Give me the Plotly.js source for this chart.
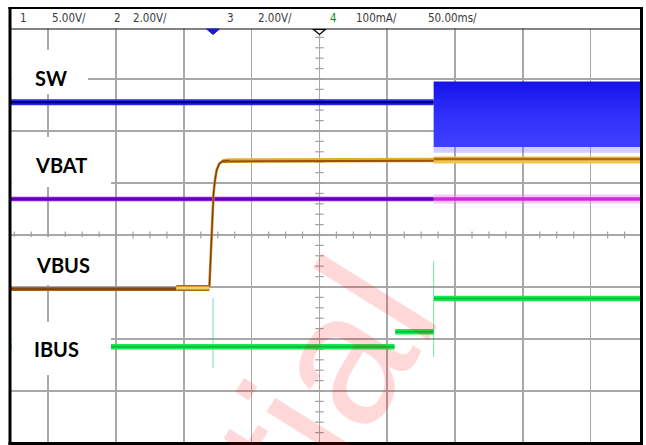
<!DOCTYPE html>
<html><head><meta charset="utf-8">
<script src="https://cdn.plot.ly/plotly-3.0.1.min.js"></script>
<style>html,body{margin:0;padding:0;background:#fff;overflow:hidden}#chart{width:646px;height:445px}</style>
</head><body><div id="chart"></div>
<script>
// ---- Scope header settings ----
const headerLabels = ['1', '5.00V/', '2', '2.00V/', '3', '2.00V/', '4', '100mA/', '50.00ms/'];
const traceLabels = ['SW', 'VBAT', 'VBUS', 'IBUS'];
const watermark = 'tial';

// ---- Waveforms: time in ms (50 ms/div), level in screen divisions ----
const swTime = [-227.5, 84.2];
const swLevel = [2.55, 2.55];
const swBurstTime = [84.2, 236.4];
const swBurstHigh = [2.95, 2.95];
const swBurstLow = [1.69, 1.69];
const swBurstFaintLow = [1.58, 1.58];

const vbatTime = [-227.5, 84.2];
const vbatLevel = [0.69, 0.69];
const vbatNoisyTime = [84.2, 236.4];
const vbatNoisyLevel = [0.69, 0.69];

const vbusTime1 = [-227.5, -105.6];
const vbusLevel1 = [-1.04, -1.04];
const vbusTime2 = [-105.6, -81.2];
const vbusLevel2 = [-1.02, -1.02];
const vbusRiseTime = [-81.2, -80.5, -79.8, -78.8, -78.1, -77.0, -75.8, -73.9, -71.4, -66.5];
const vbusRiseLevel = [-1.0, -0.54, -0.10, 0.42, 0.81, 1.06, 1.25, 1.37, 1.42, 1.43];
const vbusFlatTime = [-71.4, -66.5, 84.2];
const vbusFlatLevel = [1.42, 1.43, 1.44];
const vbusNoisyTime = [84.2, 236.4];
const vbusNoisyLevel = [1.44, 1.44];

const ibusTime = [-227.5, 55.4, null, 55.9, 84.2, null, 84.5, 236.4];
const ibusLevel = [-2.15, -2.15, null, -1.86, -1.86, null, -1.22, -1.22];
const ibusSpikeTime = [-78.5, -78.5, null, 84.2, 84.2];
const ibusSpikeLevel = [-1.21, -2.56, null, -0.51, -2.35];

const markerTime = [-78.5, 0];

// ---- helpers ----
const W = 646, H = 445, L = 11, R = 6, T = 28, B = 2;
const pw = W - L - R, ph = H - T - B;
const px = x => (x - L) / pw;
const py = y => (H - B - y) / ph;

function ln(x, y, color, width, extra) {
  return Object.assign({type: 'scatter', mode: 'lines', x: x, y: y,
    line: {color: color, width: width, shape: 'linear'}, hoverinfo: 'skip', connectgaps: false}, extra || {});
}

const traces = [];
// graticule minor ticks on centre axes
const hTickX = [], hTickY = [];
for (let t = -225; t <= 236; t += 12.5) { hTickX.push(t); hTickY.push(0); }
const vTickX = [], vTickY = [];
for (let d = -4; d <= 4.001; d += 0.2) { vTickX.push(0); vTickY.push(+d.toFixed(2)); }
traces.push({type: 'scatter', mode: 'markers', x: hTickX, y: hTickY, hoverinfo: 'skip',
  marker: {symbol: 'line-ns', size: 5, line: {width: 1.2, color: '#a0a0a0'}}});
traces.push({type: 'scatter', mode: 'markers', x: vTickX, y: vTickY, hoverinfo: 'skip',
  marker: {symbol: 'line-ew', size: 6, line: {width: 1.2, color: '#a0a0a0'}}});

// SW burst band
traces.push(ln(swBurstTime, swBurstFaintLow, 'rgba(0,0,0,0)', 0));
traces.push(ln(swBurstTime, swBurstLow, 'rgba(0,0,0,0)', 0, {fill: 'tonexty', fillcolor: 'rgba(100,100,255,0.3)'}));
traces.push(ln(swBurstTime, swBurstHigh, 'rgba(0,0,0,0)', 0, {fill: 'tonexty', fillcolor: '#2a2af8',
  fillgradient: {type: 'vertical', start: 1.69, stop: 2.95, colorscale: [[0, '#4040ff'], [0.5, '#2f2ffb'], [1, '#1414e8']]}}));
// SW flat
traces.push(ln(swTime, swLevel, '#2a2ae0', 6));
traces.push(ln(swTime, swLevel, '#00007e', 2.5));

// VBAT (purple)
traces.push(ln(vbatNoisyTime, vbatNoisyLevel, 'rgba(238,130,238,0.45)', 9));
traces.push(ln(vbatNoisyTime, vbatNoisyLevel, '#d424e4', 3.5));
traces.push(ln(vbatTime, vbatLevel, '#8a1ad6', 4.5));
traces.push(ln(vbatTime, vbatLevel, '#6400b4', 2));

// VBUS (orange)
traces.push(ln(vbusNoisyTime, vbusNoisyLevel, '#f2c54a', 7));
traces.push(ln(vbusNoisyTime, vbusNoisyLevel.map(v => v + 0.02), '#b06a12', 2.5));
traces.push(ln(vbusTime1, vbusLevel1, '#a8601c', 4));
traces.push(ln(vbusTime1, vbusLevel1, '#7e3e00', 1.5));
traces.push(ln(vbusFlatTime, vbusFlatLevel, '#e6ad34', 4.5));
traces.push(ln(vbusFlatTime, vbusFlatLevel.map(v => v - 0.015), '#9a5200', 2));
traces.push(ln(vbusRiseTime, vbusRiseLevel, '#c78a2a', 2.6));
traces.push(ln(vbusRiseTime, vbusRiseLevel, '#7a3c00', 1.2));
traces.push(ln(vbusTime2, vbusLevel2, '#a86a10', 6));
traces.push(ln(vbusTime2, vbusLevel2, '#f2cf60', 3));

// IBUS (green)
traces.push(ln(ibusSpikeTime, ibusSpikeLevel, 'rgba(0,210,90,0.55)', 1));
traces.push(ln(ibusTime, ibusLevel, '#1ee850', 5.5));
traces.push(ln(ibusTime, ibusLevel, '#00c43c', 2));

// ---- shapes ----
const shapes = [];
// label cover boxes
const boxes = [[11.5, 50, 88, 94], [11.5, 137, 111, 187], [11.5, 237, 100, 285], [11.5, 322, 111, 375]];
boxes.forEach(b => shapes.push({type: 'rect', xref: 'paper', yref: 'paper', layer: 'above',
  x0: px(b[0]), x1: px(b[2]), y0: py(b[3]), y1: py(b[1]), fillcolor: '#ffffff', line: {width: 0}}));
// header separator
shapes.push({type: 'line', xref: 'paper', yref: 'paper', x0: px(10), x1: px(641), y0: py(29), y1: py(29),
  line: {color: '#5a5a5a', width: 1.5}, layer: 'above'});
// frame
shapes.push({type: 'line', xref: 'paper', yref: 'paper', x0: px(10), x1: px(10), y0: py(7), y1: py(445), line: {color: '#000', width: 3}, layer: 'above'});
shapes.push({type: 'line', xref: 'paper', yref: 'paper', x0: px(641.5), x1: px(641.5), y0: py(7), y1: py(445), line: {color: '#000', width: 3}, layer: 'above'});
shapes.push({type: 'line', xref: 'paper', yref: 'paper', x0: px(8.5), x1: px(643), y0: py(8), y1: py(8), line: {color: '#000', width: 2}, layer: 'above'});
shapes.push({type: 'line', xref: 'paper', yref: 'paper', x0: px(8.5), x1: px(643), y0: py(443.5), y1: py(443.5), line: {color: '#000', width: 3}, layer: 'above'});
// channel / trigger markers at top edge
const msPerPx = 50 / 67.8;
const hw = 6.5 * msPerPx;
shapes.push({type: 'path', xref: 'x', yref: 'paper', layer: 'above',
  path: `M ${markerTime[0] - hw} ${py(29)} L ${markerTime[0] + hw} ${py(29)} L ${markerTime[0]} ${py(34.5)} Z`,
  fillcolor: '#1c1cc4', line: {color: '#1c1cc4', width: 1}});
shapes.push({type: 'path', xref: 'x', yref: 'paper', layer: 'above',
  path: `M ${markerTime[1] - hw * 0.9} ${py(29.5)} L ${markerTime[1] + hw * 0.9} ${py(29.5)} L ${markerTime[1]} ${py(34.5)} Z`,
  fillcolor: '#ffffff', line: {color: '#000000', width: 1.2}});

// ---- annotations ----
const annotations = [];
const headerX = [23, 68.5, 117.5, 150, 230.5, 275, 333, 376.5, 452.5];
headerLabels.forEach((t, i) => annotations.push({xref: 'paper', yref: 'paper', x: px(headerX[i]), y: py(17.5),
  xanchor: 'center', yanchor: 'middle', showarrow: false, text: t,
  font: {family: 'DejaVu Sans Condensed, Liberation Sans Narrow, Roboto, sans-serif', size: 11.5,
    color: i === 6 ? '#108a10' : '#3a3a3a'}}));
const labelY = [77.5, 164.5, 264.5, 349];
const labelX = [33, 33, 34, 32];
traceLabels.forEach((t, i) => annotations.push({xref: 'paper', yref: 'paper', x: px(labelX[i]), y: py(labelY[i]),
  xanchor: 'left', yanchor: 'middle', showarrow: false, text: t,
  font: {family: 'Lato, Open Sans, sans-serif', size: 20, color: '#000', weight: 'bold'}}));
annotations.push({xref: 'x', yref: 'y', x: 4, y: -2.85, xanchor: 'center', yanchor: 'middle', showarrow: false,
  text: watermark, textangle: -58,
  font: {family: 'Liberation Sans, Arial, sans-serif', size: 188, color: 'rgba(255,0,0,0.15)'}});

const axisCommon = {showgrid: true, gridcolor: '#a8a8a8', gridwidth: 1.6, zeroline: true, zerolinecolor: '#a8a8a8',
  zerolinewidth: 1.6, showticklabels: false, ticks: '', showline: false, fixedrange: true};
const layout = {
  width: W, height: H, margin: {l: L, r: R, t: T, b: B, pad: 0},
  paper_bgcolor: '#ffffff', plot_bgcolor: '#ffffff', showlegend: false,
  xaxis: Object.assign({range: [-227.5, 236.4], tick0: 0, dtick: 50}, axisCommon),
  yaxis: Object.assign({range: [-4, 3.98], tick0: 0, dtick: 1}, axisCommon),
  shapes: shapes, annotations: annotations
};
Plotly.newPlot('chart', traces, layout, {staticPlot: true, displayModeBar: false});
</script>
</body></html>
